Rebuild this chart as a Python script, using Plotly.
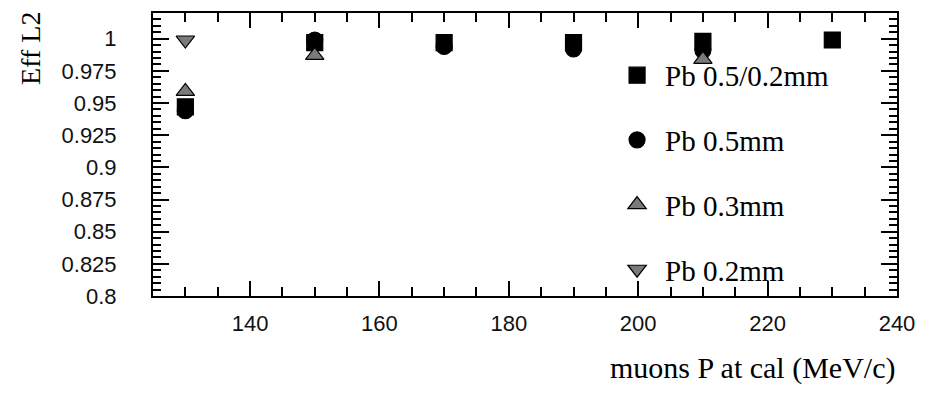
import plotly.graph_objects as go

# ---- data ----
series_names = ["Pb 0.5/0.2mm", "Pb 0.5mm", "Pb 0.3mm", "Pb 0.2mm"]

x_pb05_02 = [130, 150, 170, 190, 210, 230]
y_pb05_02 = [0.947, 0.997, 0.997, 0.997, 0.998, 0.999]

x_pb05 = [130, 150, 170, 190, 210]
y_pb05 = [0.944, 0.999, 0.994, 0.992, 0.991]

x_pb03 = [130, 150, 210]
y_pb03 = [0.959, 0.987, 0.984]

x_pb02 = [130]
y_pb02 = [0.999]

x_tick_vals = [140, 160, 180, 200, 220, 240]
y_tick_vals = [0.8, 0.825, 0.85, 0.875, 0.9, 0.925, 0.95, 0.975, 1.0]
y_tick_text = ["0.8", "0.825", "0.85", "0.875", "0.9", "0.925", "0.95", "0.975", "1"]

symbols = ["square", "circle", "triangle-up", "triangle-down"]
fills = ["black", "black", "#7a7a7a", "#7a7a7a"]

fig = go.Figure()
data = [(x_pb05_02, y_pb05_02), (x_pb05, y_pb05), (x_pb03, y_pb03), (x_pb02, y_pb02)]
for i, ((xs, ys), name) in enumerate(zip(data, series_names)):
    fig.add_trace(go.Scatter(
        x=xs, y=ys, mode="markers", name=name, legendgroup=f"g{i}",
        marker=dict(symbol=symbols[i], size=16, color=fills[i],
                    line=dict(color="black", width=1.2)),
    ))

serif = "Liberation Serif, Times New Roman, serif"
sans = "Liberation Sans, Arial, sans-serif"

axis_common = dict(
    showline=True, linecolor="black", linewidth=2, mirror="ticks",
    ticks="inside", tickcolor="black", tickwidth=1.5,
    showgrid=False, zeroline=False,
    tickfont=dict(family=sans, size=22, color="#111"),
)

fig.update_xaxes(
    range=[125, 240], tickmode="array", tickvals=x_tick_vals,
    ticklen=15, ticklabelstandoff=7,
    minor=dict(dtick=5, tick0=0, ticks="inside", ticklen=9, tickcolor="black",
               tickwidth=1.5, showgrid=False),
    **axis_common,
)
fig.update_yaxes(
    range=[0.8, 1.02], tickmode="array", tickvals=y_tick_vals, ticktext=y_tick_text,
    ticklen=16, ticklabelstandoff=30,
    minor=dict(dtick=0.005, tick0=0.8, ticks="inside", ticklen=8, tickcolor="black",
               tickwidth=1.5, showgrid=False),
    **axis_common,
)

fig.add_annotation(
    text="muons P at cal (MeV/c)", xref="paper", yref="paper",
    x=1.0, y=-0.255, xanchor="right", yanchor="middle", showarrow=False,
    font=dict(family=serif, size=30, color="black"),
)
fig.add_annotation(
    text="Eff L2", xref="paper", yref="paper", textangle=-90,
    x=-0.165, y=1.01, xanchor="center", yanchor="top", showarrow=False,
    font=dict(family=serif, size=28, color="black"),
)

# page body has an 8px margin, so the figure is drawn 8px in and 8px down
fig.update_layout(
    width=925, height=388,
    margin=dict(l=145, r=36, t=3, b=100),
    paper_bgcolor="white", plot_bgcolor="white",
    showlegend=True,
    legend=dict(
        x=0.613, y=0.87, xanchor="left", yanchor="top",
        xref="paper", yref="paper",
        font=dict(family=serif, size=29, color="black"),
        bgcolor="rgba(0,0,0,0)", tracegroupgap=24, itemsizing="trace",
        itemwidth=46,
    ),
)

fig.write_html("out.html")
